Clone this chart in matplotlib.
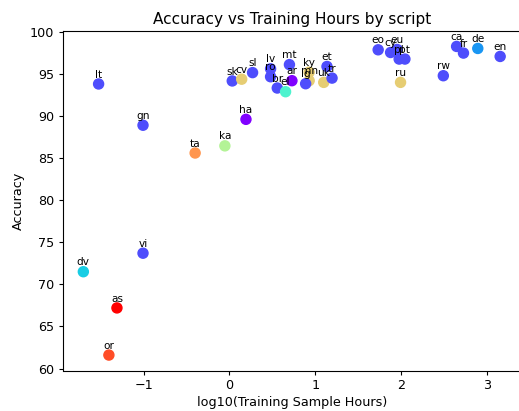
import numpy as np
import matplotlib
matplotlib.use("Agg")
import matplotlib.pyplot as plt

# Script categories (colour index along the rainbow colormap)
scripts = ['Arabic', 'Latin', 'Latin-ext', 'Thaana', 'Greek', 'Armenian',
           'Georgian', 'Cyrillic', 'Tamil', 'Oriya', 'Bengali']

langs = ['lt', 'gn', 'ta', 'ka', 'ha', 'sk', 'cv', 'sl', 'vi', 'dv', 'as', 'or',
         'lv', 'ro', 'mt', 'br', 'el', 'ar', 'ky', 'mn', 'lg', 'uk', 'et', 'tr',
         'eo', 'cy', 'eu', 'pl', 'pt', 'ru', 'ca', 'fr', 'de', 'en', 'rw']
log_hours = [-1.526, -1.008, -0.40, -0.053, 0.193, 0.033, 0.143, 0.27, -1.008, -1.704, -1.312, -1.406,
             0.48, 0.48, 0.70, 0.558, 0.655, 0.729, 0.93, 0.93, 0.889, 1.10, 1.138, 1.197,
             1.735, 1.88, 1.955, 1.98, 2.047, 1.996, 2.65, 2.73, 2.897, 3.158, 2.495]
accuracy = [93.8, 88.9, 85.6, 86.45, 89.6, 94.16, 94.37, 95.15, 73.7, 71.5, 67.2, 61.6,
            95.6, 94.66, 96.1, 93.32, 92.88, 94.19, 95.2, 94.19, 93.83, 93.99, 95.88, 94.5,
            97.86, 97.54, 97.9, 96.76, 96.76, 93.99, 98.26, 97.47, 98.02, 97.07, 94.78]
lang_script = ['Latin', 'Latin', 'Tamil', 'Georgian', 'Arabic', 'Latin', 'Cyrillic', 'Latin',
               'Latin', 'Thaana', 'Bengali', 'Oriya',
               'Latin', 'Latin', 'Latin', 'Latin', 'Greek', 'Arabic', 'Cyrillic', 'Cyrillic',
               'Latin', 'Cyrillic', 'Latin', 'Latin',
               'Latin', 'Latin', 'Latin', 'Latin', 'Latin', 'Cyrillic', 'Latin', 'Latin',
               'Latin-ext', 'Latin', 'Latin']

cmap = plt.get_cmap('rainbow')
script_color = {s: cmap(i / (len(scripts) - 1)) for i, s in enumerate(scripts)}
colors = [script_color[s] for s in lang_script]

fig = plt.figure(figsize=(5.19, 4.11), dpi=100)
ax = fig.add_axes([62.5 / 519, 1 - 370.5 / 411, (521 - 62.5) / 519, (370.5 - 31) / 411])

ax.scatter(log_hours, accuracy, c=colors, s=52, zorder=2)
for lang, x, y in zip(langs, log_hours, accuracy):
    ax.annotate(lang, (x, y), textcoords='offset points', xytext=(0, 4.6),
                ha='center', va='baseline', fontsize=7.6, zorder=3)

ax.set_title('Accuracy vs Training Hours by script', fontsize=11, pad=5)
ax.set_xlabel('log10(Training Sample Hours)', fontsize=9.2, labelpad=3)
ax.set_ylabel('Accuracy', fontsize=9.2, labelpad=3)
ax.tick_params(labelsize=9.2, length=3.2, pad=3)
ax.set_xticks([-1, 0, 1, 2, 3])
ax.set_yticks([60, 65, 70, 75, 80, 85, 90, 95, 100])

fig.savefig('out.png', dpi=100)
